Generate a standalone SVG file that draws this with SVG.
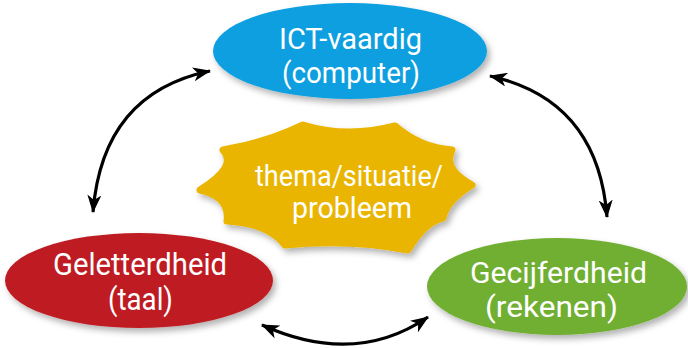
<svg xmlns="http://www.w3.org/2000/svg" width="688" height="348" viewBox="0 0 688 348">
<defs>
<filter id="sh" x="-20%" y="-20%" width="140%" height="150%">
<feDropShadow dx="3" dy="4" stdDeviation="3" flood-color="#000" flood-opacity="0.3"/>
</filter>
<marker id="ah" viewBox="0 0 18 14" refX="17" refY="7" markerWidth="18" markerHeight="14" markerUnits="userSpaceOnUse" orient="auto-start-reverse">
<path d="M0,0 L18,7 L0,14 L5,7 z" fill="#000"/>
</marker>
</defs>
<style>
.lbl{font-family:Roboto,"Liberation Sans",sans-serif;fill:#fff;}
.con{fill:none;stroke:#000;stroke-width:3.2;marker-start:url(#ah);marker-end:url(#ah);}
</style>
<rect width="688" height="348" fill="#fff"/>
<g id="connectors">
<path class="con" d="M93,212 Q102.5,93 210,71"/>
<path class="con" d="M490,76 Q598,100 607,217"/>
<path class="con" d="M262,325 Q355,367 428,317"/>
</g>
<g id="node-ict">
<ellipse cx="350" cy="51" rx="137" ry="48" fill="#0a9fe0" filter="url(#sh)"/>
<text class="lbl" x="279" y="49" font-size="30" textLength="143" lengthAdjust="spacingAndGlyphs">ICT-vaardig</text>
<text class="lbl" x="282" y="83" font-size="30" textLength="138" lengthAdjust="spacingAndGlyphs">(computer)</text>
</g>
<g id="node-thema">
<path d="M223,150 Q267,142.5 303,125 Q347,138.5 395,126 Q420.5,148 452,150 Q442,168.5 472,185 Q446.5,200.5 443,218 Q424.5,222 408,250 Q349.5,238.5 285,245 Q268,223 227,221 Q230.5,196.5 200,190 Q238.5,166 223,150 Z" fill="#e9b501" stroke="#e9b501" stroke-width="7" stroke-linejoin="round" filter="url(#sh)"/>
<text class="lbl" x="255" y="186" font-size="30" textLength="188" lengthAdjust="spacingAndGlyphs">thema/situatie/</text>
<text class="lbl" x="292" y="218" font-size="30" textLength="120" lengthAdjust="spacingAndGlyphs">probleem</text>
</g>
<g id="node-geletterdheid">
<ellipse cx="139" cy="280.5" rx="134" ry="47.5" fill="#be1e23" filter="url(#sh)"/>
<text class="lbl" x="53" y="275" font-size="31" textLength="174" lengthAdjust="spacingAndGlyphs">Geletterdheid</text>
<text class="lbl" x="108" y="310" font-size="31" textLength="65" lengthAdjust="spacingAndGlyphs">(taal)</text>
</g>
<g id="node-gecijferdheid">
<ellipse cx="557" cy="286.5" rx="130" ry="48.5" fill="#70af31" filter="url(#sh)"/>
<text class="lbl" x="470" y="283" font-size="30" textLength="177" lengthAdjust="spacingAndGlyphs">Gecijferdheid</text>
<text class="lbl" x="485" y="317" font-size="30" textLength="133" lengthAdjust="spacingAndGlyphs">(rekenen)</text>
</g>
</svg>
